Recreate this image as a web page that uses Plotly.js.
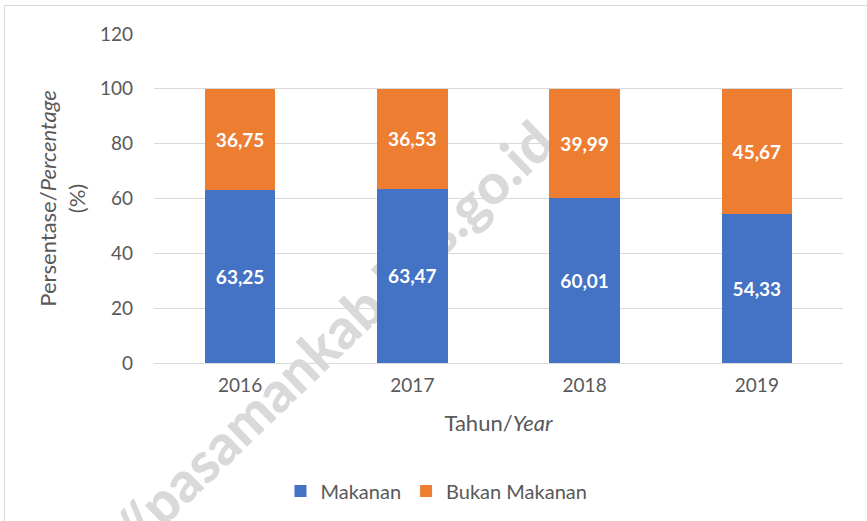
<!DOCTYPE html>
<html>
<head>
<meta charset="utf-8">
<script src="https://cdn.plot.ly/plotly-3.0.1.min.js"></script>
<style>
  html, body { margin: 0; padding: 0; background: #ffffff; overflow: hidden; width: 867px; height: 521px; }
  #frame { position: absolute; left: 4px; top: 5px; width: 920px; height: 600px;
           border: 1.5px solid #d9d9d9; box-sizing: border-box; }
  #wm { position: absolute; left: 281px; top: 385px; transform: translate(-50%, -50%) rotate(-44deg);
        font-family: Lato, "Open Sans", sans-serif; font-weight: 900; font-size: 56px;
        color: #d9d9d9; white-space: nowrap; line-height: 1; }
  #chart { position: absolute; left: 0; top: 0; width: 867px; height: 521px; }
</style>
</head>
<body>
<div id="frame"></div>
<div id="wm">https://pasamankab.bps.go.id</div>
<div id="chart"></div>
<script>
const years = ['2016', '2017', '2018', '2019'];
const makanan = [63.25, 63.47, 60.01, 54.33];
const bukanMakanan = [36.75, 36.53, 39.99, 45.67];
const seriesNames = ['Makanan', 'Bukan Makanan'];
const yTicks = [0, 20, 40, 60, 80, 100, 120];

const FONT = 'Lato, "Open Sans", sans-serif';
const GREY = '#595959';

const labelFont = { family: FONT, size: 19, color: '#ffffff', weight: 'bold' };

const traces = [
  {
    type: 'bar', name: seriesNames[0], x: years, y: makanan,
    marker: { color: '#4472C4' },
    texttemplate: '%{y:.2f}', textposition: 'inside', insidetextanchor: 'middle',
    textfont: labelFont, hoverinfo: 'skip'
  },
  {
    type: 'bar', name: seriesNames[1], x: years, y: bukanMakanan,
    marker: { color: '#ED7D31' },
    texttemplate: '%{y:.2f}', textposition: 'inside', insidetextanchor: 'middle',
    textfont: labelFont, hoverinfo: 'skip'
  }
];

const layout = {
  width: 867, height: 521,
  margin: { l: 154, r: 24, t: 34, b: 157 },
  paper_bgcolor: 'rgba(0,0,0,0)', plot_bgcolor: 'rgba(0,0,0,0)',
  barmode: 'stack', bargap: 0.59,
  separators: ',.',
  font: { family: FONT, color: GREY, size: 19 },
  showlegend: true,
  legend: {
    orientation: 'h', x: 0.41, xanchor: 'center', y: -0.385, yanchor: 'middle',
    font: { family: FONT, size: 20, color: GREY }, traceorder: 'normal'
  },
  xaxis: {
    type: 'category', showgrid: false, zeroline: false, showline: false,
    ticks: '', ticklabelstandoff: 9,
    tickfont: { family: FONT, size: 19, color: GREY },
    title: { text: 'Tahun/<i>Year</i>', font: { family: FONT, size: 22, color: GREY }, standoff: 20 },
    automargin: false
  },
  yaxis: {
    range: [0, 120], tickvals: yTicks, ticktext: yTicks.map(String),
    showgrid: true, gridcolor: '#d9d9d9', gridwidth: 1,
    zeroline: true, zerolinecolor: '#d9d9d9', zerolinewidth: 1,
    showline: false, ticks: '', ticklabelstandoff: 20,
    tickfont: { family: FONT, size: 19, color: GREY },
    title: { text: 'Persentase/<i>Percentage</i><br>(%)', font: { family: FONT, size: 22, color: GREY }, standoff: 8 },
    automargin: false
  }
};

Plotly.newPlot('chart', traces, layout, { staticPlot: true, displayModeBar: false });
</script>
</body>
</html>
